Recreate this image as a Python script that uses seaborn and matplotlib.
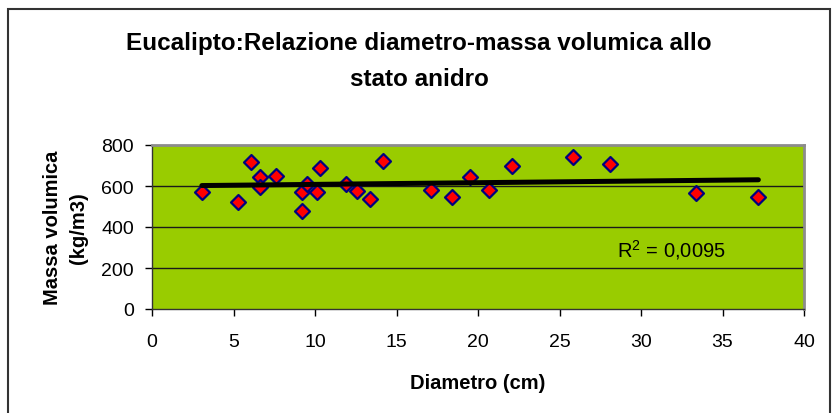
import numpy as np
import pandas as pd
import matplotlib
matplotlib.use("Agg")
import matplotlib.pyplot as plt
from matplotlib.patches import Rectangle
import seaborn as sns

# Diametro (cm) e massa volumica allo stato anidro (kg/m3)
diametro = [3.06, 5.3, 6.1, 6.6, 6.6, 7.6, 9.2, 9.2, 9.5, 10.1, 10.3,
            11.9, 12.6, 13.4, 14.2, 17.1, 18.4, 19.5, 20.7, 22.1, 25.8,
            28.1, 33.4, 37.2]
massa = [572, 520, 719, 645, 597, 651, 480, 573, 610, 570, 689,
         610, 577, 537, 720, 582, 548, 646, 582, 699, 743,
         706, 566, 545]
x_ticks = [0, 5, 10, 15, 20, 25, 30, 35, 40]
y_ticks = [0, 200, 400, 600, 800]
title_lines = ["Eucalipto:Relazione diametro-massa volumica allo",
               "stato anidro"]
r2_label = "R$^2$ = 0,0095"

df = pd.DataFrame({"Diametro": diametro, "Massa": massa})

sns.set_theme(style="white")
plt.rcParams["font.family"] = ["Liberation Sans", "DejaVu Sans"]
plt.rcParams["mathtext.fontset"] = "custom"
plt.rcParams["mathtext.rm"] = "Liberation Sans"
for key in ("text.color", "axes.labelcolor", "xtick.color", "ytick.color",
            "xtick.labelcolor", "ytick.labelcolor"):
    plt.rcParams[key] = "black"

W, H = 834, 414
fig = plt.figure(figsize=(W / 100, H / 100), dpi=100)
ax = fig.add_axes([152 / W, 1 - 310 / H, 652 / W, 164 / H])
ax.set_facecolor("#99CC00")

# outer chart frame
fig.patches.append(Rectangle((8 / W, -0.05), 822 / W, 1.05 - 10 / H,
                             transform=fig.transFigure, fill=False,
                             edgecolor="#333333", linewidth=1.5))

for yv in y_ticks[1:-1]:
    ax.axhline(yv, color="#1a1a1a", linewidth=1.0, zorder=1)

sns.scatterplot(data=df, x="Diametro", y="Massa", marker="D", s=58,
                color="#FF0000", edgecolor="#000080", linewidth=1.6,
                ax=ax, zorder=3)
sns.regplot(data=df, x="Diametro", y="Massa", ci=None, scatter=False,
            truncate=True, line_kws={"color": "black", "linewidth": 3.6,
                                     "solid_capstyle": "round", "zorder": 4},
            ax=ax)

ax.set_xlim(0, 40)
ax.set_ylim(0, 800)
ax.set_xticks(x_ticks)
ax.set_yticks(y_ticks)
ax.tick_params(axis="both", direction="out", length=5, width=1,
               color="black", labelcolor="black", labelsize=14,
               bottom=True, left=True)
ax.tick_params(axis="x", pad=12)
ax.tick_params(axis="y", pad=8)

for side in ("left", "bottom"):
    ax.spines[side].set_color("#333333")
    ax.spines[side].set_linewidth(1.0)
for side in ("top", "right"):
    ax.spines[side].set_color("#8c8c8c")
    ax.spines[side].set_linewidth(2.0)

ax.set_xlabel("Diametro (cm)", fontsize=14.5, fontweight="bold",
              color="black")
ax.xaxis.set_label_coords(0.5, (310 - 374) / 164)
ax.set_ylabel("Massa volumica\n(kg/m3)", fontsize=14.5, fontweight="bold",
              linespacing=1.45, color="black")
ax.yaxis.set_label_coords((88 - 152) / 652, 0.5)

ax.text(28.5, 258, r2_label, fontsize=14.5, ha="left", va="baseline",
        color="black")

fig.text(419 / W, 1 - 50 / H, title_lines[0], ha="center", va="baseline",
         fontsize=17.5, fontweight="bold", color="black")
fig.text(419 / W, 1 - 86 / H, title_lines[1], ha="center", va="baseline",
         fontsize=17.5, fontweight="bold", color="black")

fig.savefig("out.png", dpi=100)
